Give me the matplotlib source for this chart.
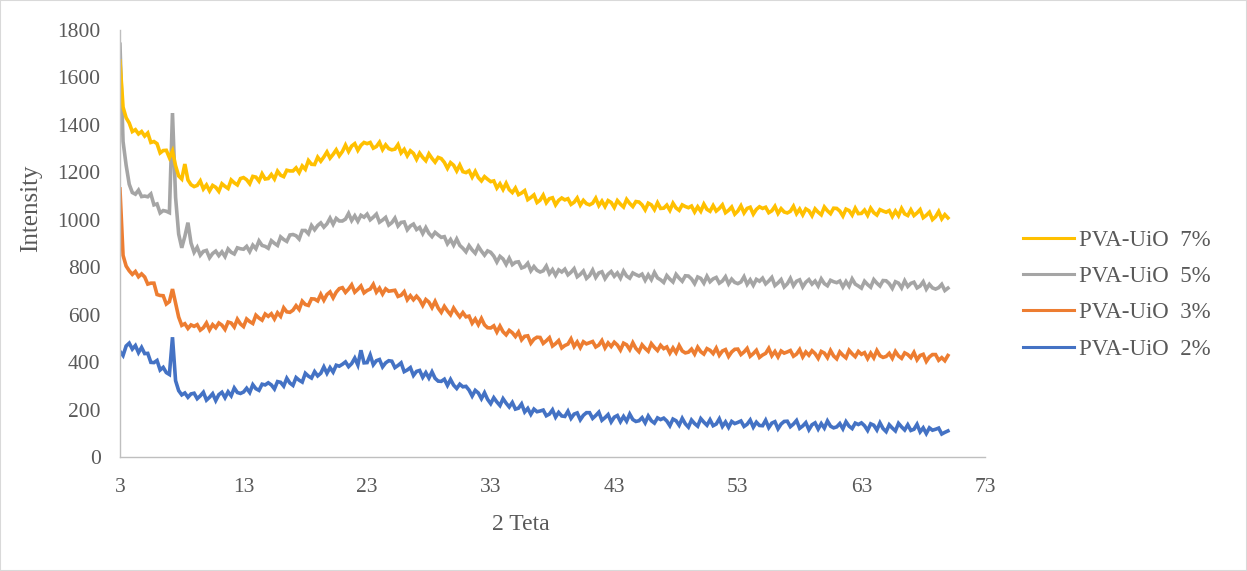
import numpy as np
import matplotlib
matplotlib.use("Agg")
import matplotlib.pyplot as plt
from matplotlib.patches import Rectangle

# 2-theta grid (degrees), step 0.25 from 3 to 70
two_theta = np.arange(3.0, 70.001, 0.25)

series_labels = ["PVA-UiO  2%", "PVA-UiO  3%", "PVA-UiO  5%", "PVA-UiO  7%"]
x_ticks = [3, 13, 23, 33, 43, 53, 63, 73]
y_ticks = [0, 200, 400, 600, 800, 1000, 1200, 1400, 1600, 1800]

pva_uio_7 = [
    1670, 1475, 1430, 1408, 1372, 1380, 1362, 1372,
    1353, 1366, 1326, 1330, 1321, 1282, 1292, 1293,
    1262, 1290, 1228, 1185, 1172, 1235, 1168, 1148,
    1140, 1145, 1164, 1130, 1147, 1122, 1145, 1137,
    1120, 1152, 1141, 1132, 1168, 1156, 1147, 1174,
    1178, 1169, 1152, 1183, 1180, 1163, 1194, 1172,
    1174, 1191, 1172, 1205, 1188, 1182, 1209, 1206,
    1206, 1219, 1199, 1227, 1213, 1250, 1234, 1233,
    1264, 1247, 1265, 1286, 1260, 1276, 1295, 1270,
    1288, 1315, 1288, 1311, 1321, 1293, 1314, 1326,
    1321, 1326, 1302, 1309, 1327, 1296, 1316, 1300,
    1295, 1298, 1317, 1282, 1297, 1270, 1291, 1280,
    1255, 1281, 1263, 1249, 1278, 1259, 1243, 1263,
    1258, 1242, 1217, 1241, 1230, 1206, 1231, 1203,
    1199, 1207, 1180, 1204, 1178, 1164, 1182, 1171,
    1161, 1164, 1134, 1152, 1128, 1154, 1127, 1115,
    1134, 1106, 1113, 1123, 1085, 1094, 1105, 1073,
    1083, 1104, 1072, 1089, 1093, 1063, 1082, 1092,
    1084, 1089, 1065, 1074, 1092, 1062, 1082, 1068,
    1063, 1070, 1091, 1060, 1079, 1056, 1081, 1073,
    1052, 1081, 1066, 1054, 1086, 1069, 1056, 1077,
    1075, 1063, 1042, 1070, 1063, 1043, 1072, 1048,
    1049, 1062, 1040, 1070, 1050, 1040, 1063, 1056,
    1051, 1058, 1033, 1055, 1036, 1066, 1044, 1036,
    1060, 1037, 1048, 1063, 1030, 1040, 1054, 1024,
    1037, 1059, 1029, 1048, 1053, 1024, 1044, 1055,
    1048, 1053, 1030, 1038, 1057, 1027, 1047, 1033,
    1029, 1036, 1057, 1026, 1045, 1021, 1046, 1038,
    1017, 1046, 1032, 1021, 1054, 1038, 1026, 1049,
    1048, 1037, 1016, 1045, 1039, 1020, 1049, 1026,
    1027, 1041, 1019, 1049, 1030, 1020, 1043, 1037,
    1032, 1039, 1014, 1037, 1017, 1048, 1025, 1018,
    1042, 1018, 1029, 1043, 1009, 1019, 1032, 1001,
    1013, 1035, 1004, 1022, 1008,
]

pva_uio_5 = [
    1740, 1330, 1230, 1150, 1115, 1108, 1125, 1098,
    1100, 1097, 1109, 1063, 1067, 1029, 1039, 1036,
    1030, 1450, 1095, 940, 882, 930, 988, 902,
    863, 884, 851, 867, 871, 840, 858, 868,
    849, 865, 845, 877, 863, 856, 882, 878,
    876, 888, 866, 893, 878, 911, 892, 888,
    880, 912, 901, 892, 928, 917, 909, 936,
    938, 933, 919, 955, 955, 941, 976, 958,
    976, 987, 969, 983, 1007, 981, 1006, 995,
    995, 1003, 1027, 997, 1017, 994, 1019, 1011,
    1024, 1000, 1011, 1024, 990, 999, 1010, 978,
    988, 1007, 974, 989, 991, 958, 974, 982,
    959, 968, 942, 967, 943, 929, 947, 936,
    926, 929, 899, 917, 893, 919, 892, 880,
    865, 891, 873, 859, 888, 868, 851, 869,
    863, 847, 822, 846, 835, 812, 838, 811,
    821, 823, 797, 802, 817, 785, 803, 787,
    780, 785, 805, 773, 790, 766, 789, 780,
    792, 768, 779, 794, 760, 770, 784, 753,
    765, 788, 757, 776, 781, 752, 771, 782,
    762, 776, 754, 784, 763, 754, 776, 769,
    763, 771, 745, 768, 748, 778, 755, 747,
    736, 765, 750, 738, 770, 754, 741, 764,
    763, 751, 731, 759, 753, 733, 762, 739,
    751, 757, 733, 742, 760, 730, 750, 736,
    731, 738, 760, 728, 747, 724, 749, 741,
    754, 730, 742, 757, 723, 734, 748, 717,
    730, 753, 722, 741, 747, 717, 737, 748,
    729, 742, 721, 751, 731, 722, 745, 739,
    735, 742, 717, 740, 720, 751, 729, 721,
    712, 741, 727, 716, 748, 733, 721, 744,
    743, 731, 711, 739, 733, 713, 743, 719,
    732, 737, 713, 721, 739, 708, 728, 713,
    708, 714, 728, 702, 712,
]

pva_uio_3 = [
    1130, 850, 805, 785, 770, 782, 760, 772,
    759, 729, 733, 733, 685, 681, 680, 645,
    655, 708, 648, 590, 555, 562, 542, 557,
    551, 558, 535, 545, 565, 536, 558, 545,
    565, 556, 538, 569, 565, 548, 581, 561,
    550, 582, 571, 563, 598, 586, 577, 603,
    593, 604, 582, 608, 593, 629, 612, 610,
    619, 638, 622, 657, 643, 639, 667, 666,
    658, 686, 661, 685, 696, 671, 695, 710,
    714, 694, 708, 726, 695, 707, 721, 692,
    702, 708, 728, 695, 712, 687, 709, 699,
    701, 703, 677, 682, 697, 663, 680, 663,
    678, 663, 639, 664, 653, 630, 656, 628,
    610, 635, 616, 600, 628, 608, 591, 609,
    591, 594, 564, 582, 558, 584, 557, 545,
    544, 553, 527, 552, 528, 515, 534, 524,
    508, 527, 494, 509, 511, 480, 497, 505,
    504, 479, 490, 503, 468, 478, 491, 460,
    470, 476, 498, 466, 485, 461, 486, 477,
    482, 487, 464, 472, 491, 460, 481, 466,
    484, 472, 451, 480, 473, 453, 482, 458,
    444, 473, 458, 446, 478, 462, 449, 471,
    457, 464, 438, 460, 440, 470, 447, 439,
    442, 455, 434, 463, 444, 434, 457, 450,
    436, 459, 429, 447, 453, 424, 443, 454,
    455, 432, 443, 458, 425, 436, 450, 420,
    430, 437, 458, 427, 445, 422, 447, 438,
    443, 449, 425, 434, 453, 422, 443, 429,
    448, 436, 416, 445, 438, 419, 449, 426,
    414, 443, 429, 418, 450, 435, 423, 445,
    433, 440, 415, 438, 418, 449, 427, 420,
    424, 437, 416, 445, 426, 416, 439, 432,
    419, 441, 410, 428, 433, 403, 422, 432,
    432, 408, 419, 406, 428,
]

pva_uio_2 = [
    445, 428, 468, 480, 455, 470, 440, 462,
    436, 437, 399, 398, 407, 367, 378, 356,
    348, 505, 322, 280, 262, 270, 252, 266,
    269, 246, 258, 273, 240, 252, 267, 238,
    263, 273, 250, 275, 258, 291, 272, 268,
    274, 290, 272, 305, 288, 281, 307, 304,
    313, 304, 287, 318, 315, 299, 332, 312,
    302, 335, 324, 316, 353, 341, 333, 360,
    342, 353, 380, 353, 377, 358, 387, 383,
    391, 401, 381, 394, 417, 388, 450, 397,
    398, 430, 389, 406, 411, 380, 397, 406,
    404, 377, 386, 397, 360, 367, 377, 344,
    361, 365, 336, 356, 333, 359, 332, 320,
    319, 328, 302, 327, 303, 289, 307, 296,
    298, 282, 257, 281, 270, 246, 271, 243,
    225, 250, 232, 217, 246, 227, 211, 230,
    202, 206, 224, 190, 205, 180, 202, 191,
    194, 198, 174, 181, 199, 168, 188, 173,
    171, 193, 163, 181, 186, 157, 176, 187,
    187, 163, 175, 189, 155, 166, 179, 148,
    168, 175, 149, 171, 151, 181, 158, 150,
    153, 166, 144, 173, 153, 143, 165, 158,
    164, 152, 132, 160, 153, 134, 163, 140,
    126, 156, 141, 130, 162, 147, 134, 157,
    132, 139, 161, 129, 148, 125, 150, 141,
    146, 152, 129, 138, 156, 126, 147, 133,
    132, 155, 124, 143, 149, 119, 139, 150,
    151, 128, 139, 154, 121, 131, 145, 115,
    136, 144, 118, 141, 122, 152, 130, 123,
    127, 141, 119, 149, 130, 120, 143, 137,
    144, 132, 112, 140, 134, 114, 144, 120,
    107, 136, 122, 110, 142, 127, 114, 136,
    112, 117, 138, 106, 123, 99, 123, 113,
    117, 122, 97, 104, 110,
]

colors = ["#4472C4", "#ED7D31", "#A5A5A5", "#FFC000"]
series = [pva_uio_2, pva_uio_3, pva_uio_5, pva_uio_7]

plt.rcParams["font.family"] = ["Liberation Serif", "DejaVu Serif"]

fig = plt.figure(figsize=(12.47, 5.71), dpi=100)
ax = fig.add_axes([0.0962, 0.1996, 0.6937, 0.7478])

lines = []
for vals, col, lab in zip(series, colors, series_labels):
    ln, = ax.plot(two_theta, vals, color=col, lw=2.6, label=lab,
                  solid_joinstyle="miter")
    lines.append(ln)

ax.set_xlim(3, 73)
ax.set_ylim(0, 1800)
ax.set_xticks(x_ticks)
ax.set_yticks(y_ticks)
ax.tick_params(axis="both", length=0, labelsize=15.5, labelcolor="#595959")
ax.tick_params(axis="x", pad=15)
ax.tick_params(axis="y", pad=14)
for s in ["top", "right"]:
    ax.spines[s].set_visible(False)
for s in ["left", "bottom"]:
    ax.spines[s].set_color("#BFBFBF")
    ax.spines[s].set_linewidth(1.0)

ax.set_xlabel("2 Teta", fontsize=17, color="#595959", va="top")
ax.set_ylabel("Intensity", fontsize=18, color="#595959", va="bottom")
ax.xaxis.set_label_coords(0.4636, -0.134)
ax.yaxis.set_label_coords(-0.090, 0.583)

leg = fig.legend(lines[::-1], series_labels[::-1], loc="center left",
                 bbox_to_anchor=(0.804, 0.484), frameon=False,
                 fontsize=16.5, handlelength=2.2, labelspacing=0.67,
                 handletextpad=0.25)
for t in leg.get_texts():
    t.set_color("#595959")
for h in leg.legend_handles:
    h.set_linewidth(2.2)

fig.patches.append(Rectangle((0, 0), 1, 1, transform=fig.transFigure,
                             fill=False, edgecolor="#D9D9D9", lw=1.5))

fig.savefig("out.png", dpi=100, facecolor="white")
